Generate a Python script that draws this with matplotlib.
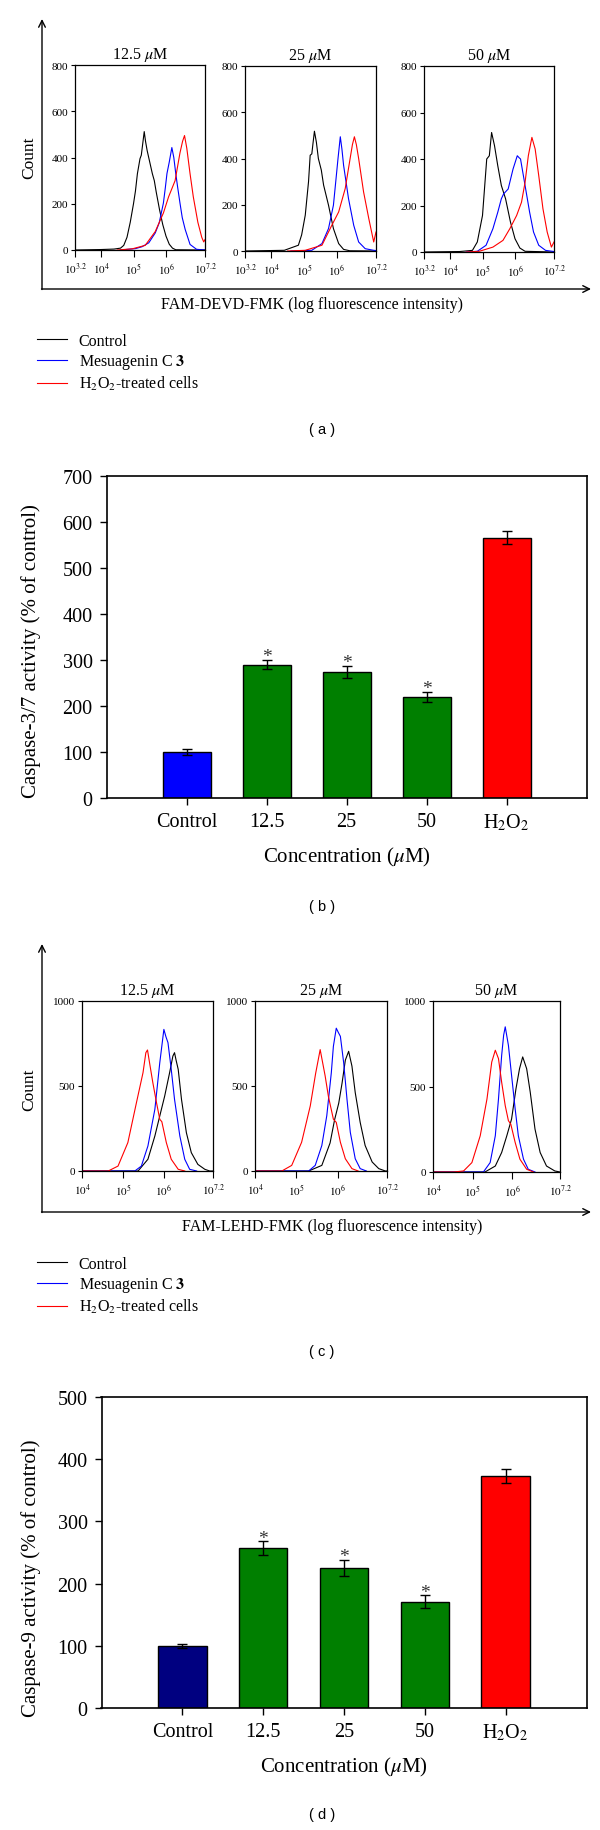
import matplotlib
matplotlib.use("Agg")
import matplotlib.pyplot as plt
import numpy as np
from matplotlib.ticker import LogLocator, NullFormatter

plt.rcParams['font.family'] = ['Liberation Serif', 'DejaVu Serif']
plt.rcParams['mathtext.fontset'] = 'stix'

W, H = 600, 1831

# ---------------- data ----------------
conc_titles = [r'12.5 $\mu$M', r'25 $\mu$M', r'50 $\mu$M']
hist_names = ['Control', r'Mesuagenin C $\mathbf{3}$', r'H$_2$O$_2$-treated cells']

# (a) FAM-DEVD-FMK histograms, x = log10 fluorescence, y = count
a1_ctrl_x = [3.2, 4.0, 4.4, 4.6, 4.7, 4.8, 4.9, 5.0, 5.06, 5.12, 5.2, 5.24, 5.28, 5.33, 5.37, 5.42, 5.5, 5.58, 5.64, 5.7, 5.8, 5.9, 6.0, 6.1, 6.2, 6.3, 7.2]
a1_ctrl_y = [0, 2, 4, 8, 20, 55, 120, 200, 255, 330, 395, 410, 455, 512, 470, 430, 380, 330, 300, 250, 175, 110, 60, 25, 8, 1, 0]
a1_mes_x = [4.6, 5.06, 5.26, 5.47, 5.67, 5.79, 5.92, 5.98, 6.03, 6.1, 6.18, 6.24, 6.3, 6.36, 6.43, 6.5, 6.59, 6.74, 6.94, 7.2]
a1_mes_y = [0, 6, 14, 31, 74, 117, 203, 270, 331, 380, 443, 400, 331, 270, 203, 140, 89, 24, 3, 0]
a1_h2o2_x = [4.5, 4.96, 5.36, 5.67, 5.92, 6.08, 6.18, 6.28, 6.33, 6.43, 6.51, 6.57, 6.64, 6.74, 6.84, 6.98, 7.1, 7.16, 7.2]
a1_h2o2_y = [0, 5, 20, 80, 160, 230, 265, 300, 340, 420, 470, 495, 440, 330, 230, 120, 55, 35, 45]

a2_ctrl_x = [3.2, 4.4, 4.83, 4.93, 5.04, 5.14, 5.19, 5.24, 5.28, 5.32, 5.38, 5.44, 5.53, 5.6, 5.75, 5.9, 6.06, 6.21, 6.4, 7.2]
a2_ctrl_y = [0, 3, 25, 70, 155, 300, 414, 420, 470, 518, 470, 400, 350, 285, 198, 97, 32, 7, 1, 0]
a2_mes_x = [4.6, 5.24, 5.55, 5.75, 5.9, 5.98, 6.04, 6.11, 6.16, 6.21, 6.36, 6.52, 6.67, 6.87, 7.13, 7.2]
a2_mes_y = [0, 3, 32, 97, 198, 313, 400, 494, 440, 371, 227, 111, 39, 10, 3, 2]
a2_h2o2_x = [4.5, 5.04, 5.55, 5.85, 6.06, 6.26, 6.41, 6.48, 6.54, 6.6, 6.67, 6.82, 6.98, 7.13, 7.2]
a2_h2o2_y = [0, 3, 25, 111, 169, 270, 400, 460, 494, 460, 400, 256, 140, 39, 82]

a3_ctrl_x = [3.2, 4.3, 4.69, 4.84, 5.0, 5.13, 5.21, 5.28, 5.37, 5.47, 5.58, 5.71, 5.86, 6.0, 6.15, 6.31, 7.2]
a3_ctrl_y = [0, 2, 7, 43, 157, 400, 414, 514, 457, 371, 286, 229, 129, 57, 17, 3, 0]
a3_mes_x = [4.5, 4.84, 5.11, 5.32, 5.47, 5.58, 5.65, 5.79, 5.94, 6.07, 6.13, 6.17, 6.31, 6.45, 6.57, 6.73, 6.94, 7.15, 7.2]
a3_mes_y = [0, 3, 29, 100, 171, 229, 250, 271, 357, 414, 405, 400, 286, 171, 86, 29, 7, 3, 2]
a3_h2o2_x = [4.5, 4.9, 5.32, 5.63, 5.84, 6.05, 6.2, 6.31, 6.41, 6.52, 6.62, 6.73, 6.86, 6.99, 7.12, 7.2]
a3_h2o2_y = [0, 3, 21, 50, 100, 157, 214, 300, 414, 493, 443, 329, 186, 86, 21, 43]

# (c) FAM-LEHD-FMK histograms
c1_ctrl_x = [4.0, 5.37, 5.61, 5.78, 5.9, 6.02, 6.14, 6.22, 6.26, 6.3, 6.35, 6.43, 6.55, 6.67, 6.83, 7.0, 7.12, 7.2]
c1_ctrl_y = [0, 0, 69, 206, 324, 441, 578, 676, 696, 650, 598, 422, 225, 108, 39, 10, 0, 0]
c1_mes_x = [4.0, 5.29, 5.45, 5.61, 5.78, 5.9, 5.95, 6.0, 6.05, 6.1, 6.18, 6.26, 6.39, 6.51, 6.63, 6.8]
c1_mes_y = [0, 0, 29, 147, 363, 637, 735, 833, 790, 755, 598, 422, 206, 69, 10, 0]
c1_h2o2_x = [4.0, 4.64, 4.88, 5.12, 5.33, 5.49, 5.56, 5.6, 5.65, 5.73, 5.82, 5.9, 5.95, 6.06, 6.18, 6.35, 6.51]
c1_h2o2_y = [0, 0, 29, 167, 402, 578, 696, 712, 637, 520, 402, 304, 290, 167, 69, 10, 0]

c2_ctrl_x = [4.0, 5.3, 5.62, 5.82, 5.93, 6.03, 6.11, 6.19, 6.27, 6.35, 6.43, 6.55, 6.67, 6.84, 7.0, 7.16, 7.2]
c2_ctrl_y = [0, 0, 33, 165, 302, 399, 516, 652, 704, 617, 461, 286, 150, 53, 14, 0, 0]
c2_mes_x = [4.0, 5.3, 5.46, 5.62, 5.74, 5.85, 5.9, 5.97, 6.02, 6.07, 6.15, 6.23, 6.31, 6.43, 6.55, 6.7]
c2_mes_y = [0, 0, 33, 150, 325, 578, 733, 840, 815, 792, 636, 422, 228, 72, 14, 0]
c2_h2o2_x = [4.0, 4.65, 4.89, 5.13, 5.34, 5.47, 5.58, 5.7, 5.78, 5.9, 5.97, 6.07, 6.19, 6.35, 6.5]
c2_h2o2_y = [0, 0, 33, 169, 383, 574, 714, 560, 438, 305, 286, 169, 72, 14, 0]

c3_ctrl_x = [4.0, 5.31, 5.57, 5.73, 5.86, 5.98, 6.09, 6.18, 6.26, 6.36, 6.45, 6.57, 6.7, 6.86, 7.07, 7.2]
c3_ctrl_y = [0, 0, 35, 114, 212, 310, 486, 604, 673, 604, 467, 251, 114, 35, 6, 0]
c3_mes_x = [4.0, 5.27, 5.44, 5.57, 5.65, 5.73, 5.78, 5.82, 5.9, 5.98, 6.07, 6.15, 6.28, 6.4, 6.57]
c3_mes_y = [0, 0, 55, 212, 427, 682, 800, 849, 741, 565, 369, 212, 75, 16, 0]
c3_h2o2_x = [4.0, 4.52, 4.77, 4.98, 5.19, 5.36, 5.48, 5.57, 5.65, 5.73, 5.82, 5.9, 5.96, 6.07, 6.19, 6.36, 6.53]
c3_h2o2_y = [0, 0, 6, 55, 212, 427, 643, 712, 663, 525, 388, 300, 280, 173, 75, 16, 0]

a_xticks = [3.2, 4, 5, 6, 7.2]
a_xticklabels = [r'$10^{3.2}$', r'$10^{4}$', r'$10^{5}$', r'$10^{6}$', r'$10^{7.2}$']
c_xticks = [4, 5, 6, 7.2]
c_xticklabels = [r'$10^{4}$', r'$10^{5}$', r'$10^{6}$', r'$10^{7.2}$']

# (b), (d) bar charts
bar_labels = ['Control', '12.5', '25', '50', r'H$_2$O$_2$']
casp37 = [100, 290, 274, 220, 566]
casp37_err = [6, 10, 14, 11, 14]
casp9 = [100, 257, 225, 171, 373]
casp9_err = [3, 11, 13, 10, 11]
significant = [False, True, True, True, False]

# ---------------- drawing ----------------
fig = plt.figure(figsize=(W / 100, H / 100), dpi=100)

ov = fig.add_axes([0, 0, 1, 1])
ov.set_xlim(0, W)
ov.set_ylim(H, 0)
ov.axis('off')


def box(l, t, r, b):
    return [l / W, 1 - b / H, (r - l) / W, (b - t) / H]


def hist_axes(px, curves, xlo, xticks, xticklabels, ymax, yticks, title):
    ax = fig.add_axes(box(*px))
    lines = []
    for (xs, ys), c in zip(curves, ['black', 'blue', 'red']):
        ln, = ax.plot(10 ** np.array(xs), ys, color=c, lw=0.8)
        lines.append(ln)
    ax.set_xscale('log')
    ax.set_xlim(10 ** xlo, 10 ** 7.2)
    ax.set_ylim(0, ymax)
    ax.set_xticks(10 ** np.array(xticks), labels=xticklabels)
    ax.xaxis.set_minor_locator(LogLocator(base=10, subs=np.arange(2, 10)))
    ax.xaxis.set_minor_formatter(NullFormatter())
    ax.set_yticks(yticks)
    ax.tick_params(axis='both', which='both', direction='out', labelsize=8, width=0.8)
    ax.tick_params(axis='x', which='major', length=5, pad=3)
    ax.tick_params(axis='x', which='minor', length=3)
    ax.tick_params(axis='y', length=3, pad=2)
    for s in ax.spines.values():
        s.set_linewidth(0.9)
    ax.set_title(title, fontsize=11.5, pad=5)
    return lines


def arrows(y_top, y_axis):
    ap = dict(arrowstyle='->', lw=1, color='black', shrinkA=0, shrinkB=0, mutation_scale=12)
    ov.annotate('', xy=(42, y_top), xytext=(42, y_axis + 0.5), arrowprops=ap)
    ov.annotate('', xy=(591, y_axis), xytext=(41.5, y_axis), arrowprops=ap)


# panel (a)
a_boxes = [(75, 66, 205, 251), (245, 67, 376, 252), (424, 67, 554, 253)]
a_data = [
    [(a1_ctrl_x, a1_ctrl_y), (a1_mes_x, a1_mes_y), (a1_h2o2_x, a1_h2o2_y)],
    [(a2_ctrl_x, a2_ctrl_y), (a2_mes_x, a2_mes_y), (a2_h2o2_x, a2_h2o2_y)],
    [(a3_ctrl_x, a3_ctrl_y), (a3_mes_x, a3_mes_y), (a3_h2o2_x, a3_h2o2_y)],
]
for px, curves, t in zip(a_boxes, a_data, conc_titles):
    la = hist_axes(px, curves, 3.2, a_xticks, a_xticklabels, 800, [0, 200, 400, 600, 800], t)
arrows(20, 290)
ov.text(29, 158, 'Count', rotation=90, ha='center', va='center', fontsize=12.5)
ov.text(312, 305, 'FAM-DEVD-FMK (log fluorescence intensity)', ha='center', va='center', fontsize=11.5)
fig.legend(la, hist_names, loc='upper left', bbox_to_anchor=(37 / W, 1 - 334 / H),
           frameon=False, fontsize=11.5, handlelength=1.9, handletextpad=0.7,
           labelspacing=0.2, borderpad=0, borderaxespad=0)
ov.text(322, 430, '( a )', family='Liberation Sans', fontsize=10.5, ha='center', va='center')

# panel (c)
c_boxes = [(82, 1002, 213, 1172), (255, 1002, 387, 1172), (433, 1002, 560, 1173)]
c_data = [
    [(c1_ctrl_x, c1_ctrl_y), (c1_mes_x, c1_mes_y), (c1_h2o2_x, c1_h2o2_y)],
    [(c2_ctrl_x, c2_ctrl_y), (c2_mes_x, c2_mes_y), (c2_h2o2_x, c2_h2o2_y)],
    [(c3_ctrl_x, c3_ctrl_y), (c3_mes_x, c3_mes_y), (c3_h2o2_x, c3_h2o2_y)],
]
for px, curves, t in zip(c_boxes, c_data, conc_titles):
    lc = hist_axes(px, curves, 4.0, c_xticks, c_xticklabels, 1000, [0, 500, 1000], t)
arrows(945, 1213)
ov.text(29, 1090, 'Count', rotation=90, ha='center', va='center', fontsize=12.5)
ov.text(332, 1227, 'FAM-LEHD-FMK (log fluorescence intensity)', ha='center', va='center', fontsize=11.5)
fig.legend(lc, hist_names, loc='upper left', bbox_to_anchor=(37 / W, 1 - 1257 / H),
           frameon=False, fontsize=11.5, handlelength=1.9, handletextpad=0.7,
           labelspacing=0.2, borderpad=0, borderaxespad=0)
ov.text(322, 1352, '( c )', family='Liberation Sans', fontsize=10.5, ha='center', va='center')


def bar_axes(px, vals, errs, colors, ymax, ylabel, ylab_x, ylab_y):
    ax = fig.add_axes(box(*px))
    xpos = np.arange(len(bar_labels))
    ax.bar(xpos, vals, width=0.6, color=colors, edgecolor='black', linewidth=1,
           yerr=errs, capsize=3.6, error_kw=dict(elinewidth=1, capthick=1, ecolor='black'))
    for x, v, e, s in zip(xpos, vals, errs, significant):
        if s:
            ax.annotate('*', (x, v + e), xytext=(0, -1), textcoords='offset points',
                        ha='center', va='baseline', fontsize=14, color='#333333')
    ax.set_xlim(-1, len(bar_labels))
    ax.set_ylim(0, ymax)
    ax.set_xticks(xpos, labels=bar_labels)
    ax.set_yticks(np.arange(0, ymax + 1, 100))
    ax.tick_params(direction='out', length=5, width=1, labelsize=14.5, pad=5)
    for s in ax.spines.values():
        s.set_linewidth(1.2)
    ax.set_xlabel(r'Concentration ($\mu$M)', fontsize=15, labelpad=9)
    ax.set_ylabel(ylabel, fontsize=15)
    ax.yaxis.set_label_coords(ylab_x, ylab_y)


green = '#007f00'
bar_axes((106.5, 477, 586.5, 799), casp37, casp37_err,
         ['#0000ff', green, green, green, '#ff0000'], 700,
         'Caspase-3/7 activity (% of control)', -0.136, 0.46)
ov.text(322, 907, '( b )', family='Liberation Sans', fontsize=10.5, ha='center', va='center')

bar_axes((101.5, 1398, 586.5, 1709), casp9, casp9_err,
         ['#000080', green, green, green, '#ff0000'], 500,
         'Caspase-9 activity (% of control)', -0.125, 0.42)
ov.text(322, 1815, '( d )', family='Liberation Sans', fontsize=10.5, ha='center', va='center')

fig.savefig('out.png', dpi=100)
